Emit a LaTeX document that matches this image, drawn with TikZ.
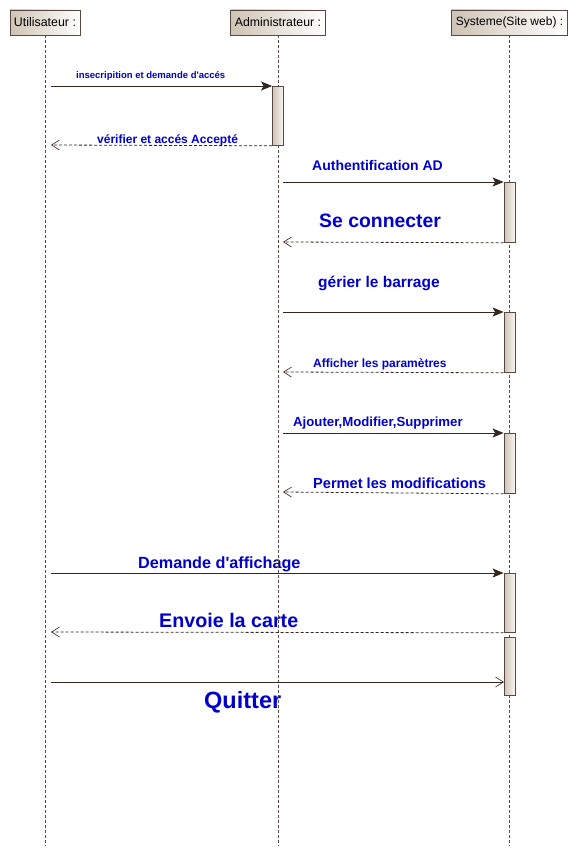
\documentclass[tikz,border=0pt]{standalone}
\usepackage{fontspec}
\setmainfont{Liberation Sans}
\usetikzlibrary{arrows.meta}
\definecolor{lbl}{RGB}{0,0,205}
\definecolor{edgec}{RGB}{88,72,64}
\definecolor{tanc}{RGB}{206,195,180}
\definecolor{msgc}{RGB}{50,38,30}
\begin{document}
\begin{tikzpicture}[x=1pt,y=-1pt,
  head/.style={draw=edgec, line width=0.8pt, left color=tanc, right color=white, inner sep=0pt, minimum height=25pt, text=black},
  life/.style={draw=edgec, line width=0.75pt, dash pattern=on 3pt off 2pt},
  actbar/.style={draw=edgec, line width=0.8pt, left color=tanc, right color=white!85!tanc, minimum width=11pt, inner sep=0pt, anchor=north},
  call/.style={draw=msgc, line width=0.8pt, -{Stealth[length=11pt,width=9pt,inset=2.5pt]}},
  callopen/.style={draw=msgc, line width=0.8pt, -{Straight Barb[length=8pt,width=10pt,line width=0.6pt]}},
  ret/.style={draw=msgc, line width=0.8pt, dash pattern=on 3pt off 2pt, -{Straight Barb[length=8pt,width=10pt,line width=0.6pt]}},
  msglbl/.style={text=lbl, inner sep=0pt, anchor=base west}
]
\useasboundingbox (0,0) rectangle (578,856);
\fill[white] (0,0) rectangle (578,856);

% labels
\node[msglbl, font=\bfseries\fontsize{9.5}{11}\selectfont] (l1) at (76,79) {insecripition et demande d\textquotesingle accés};
\node[msglbl, font=\bfseries\fontsize{12}{14}\selectfont] (l2) at (97,143) {vérifier et accés Accepté};
\node[msglbl, font=\bfseries\fontsize{14}{16}\selectfont] (l3) at (312,170) {Authentification AD};
\node[msglbl, font=\bfseries\fontsize{19.4}{22}\selectfont] (l4) at (319,227) {Se connecter};
\node[msglbl, font=\bfseries\fontsize{15.5}{18}\selectfont] (l5) at (318,287) {gérier le barrage};
\node[msglbl, font=\bfseries\fontsize{12}{14}\selectfont] (l6) at (313,367) {Afficher les paramètres};
\node[msglbl, font=\bfseries\fontsize{13.2}{15}\selectfont] (l7) at (293,426) {Ajouter,Modifier,Supprimer};
\node[msglbl, font=\bfseries\fontsize{14.6}{17}\selectfont] (l8) at (313,488) {Permet les modifications};
\node[msglbl, font=\bfseries\fontsize{16.2}{19}\selectfont] (l9) at (138,568) {Demande d\textquotesingle affichage};
\node[msglbl, font=\bfseries\fontsize{19.7}{23}\selectfont] (l10) at (159,627) {Envoie la carte};
\node[msglbl, font=\bfseries\fontsize{23.5}{27}\selectfont] (l11) at (204,708) {Quitter};

% headers
\node[head, minimum width=70pt, font=\fontsize{12.4}{14}\selectfont] (hu) at (45,22.5) {Utilisateur :};
\node[head, minimum width=95pt, font=\fontsize{12.3}{14}\selectfont] (ha) at (278,22.5) {Administrateur :};
\node[head, minimum width=116pt, font=\fontsize{12}{14}\selectfont] (hs) at (509.5,22.5) {Systeme(Site web) :};

% lifeline ends
\coordinate (eu) at (45,846);
\coordinate (ea) at (278,846);
\coordinate (es) at (509.5,846);
\draw[life] (hu.south) -- (eu);
\draw[life] (ha.south) -- (ea);
\draw[life] (hs.south) -- (es);

% activation bars
\node[actbar, minimum height=59pt] (ba) at (278,86) {};
\node[actbar, minimum height=60pt] (bs1) at (509.5,182) {};
\node[actbar, minimum height=60pt] (bs2) at (509.5,312) {};
\node[actbar, minimum height=60pt] (bs3) at (509.5,433) {};
\node[actbar, minimum height=59pt] (bs4) at (509.5,573) {};
\node[actbar, minimum height=58pt] (bs5) at (509.5,637) {};

% message end points
\coordinate (u1) at (51,86);
\coordinate (u2) at (51,145);
\coordinate (a3) at (283,182);
\coordinate (a4) at (283,242);
\coordinate (a5) at (283,312);
\coordinate (a6) at (283,372);
\coordinate (a7) at (283,433);
\coordinate (a8) at (283,492);
\coordinate (u9) at (51,573);
\coordinate (u10) at (51,632);
\coordinate (u11) at (51,682);
\coordinate (s11) at (504,682);

% messages
\draw[call] (u1) -- (ba.north west);
\draw[ret] (ba.south west) -- (u2);
\draw[call] (a3) -- (bs1.north west);
\draw[ret] (bs1.south west) -- (a4);
\draw[call] (a5) -- (bs2.north west);
\draw[ret] (bs2.south west) -- (a6);
\draw[call] (a7) -- (bs3.north west);
\draw[ret] (bs3.south west) -- (a8);
\draw[call] (u9) -- (bs4.north west);
\draw[ret] (bs4.south west) -- (u10);
\draw[callopen] (u11) -- (s11);
\end{tikzpicture}
\end{document}
